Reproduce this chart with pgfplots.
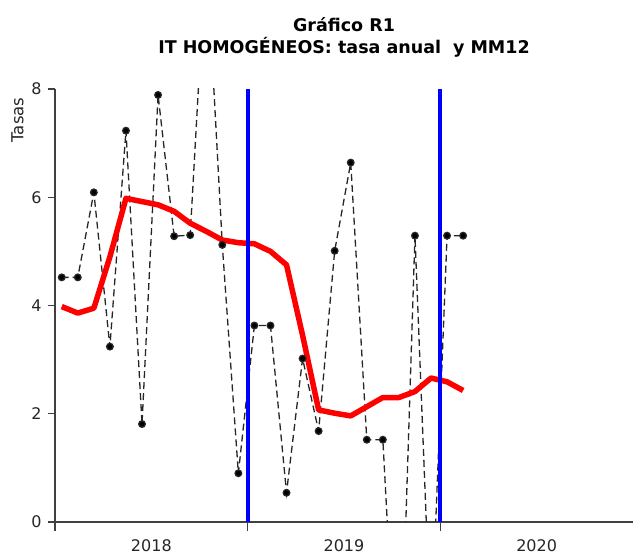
\documentclass[border=0pt]{standalone}
\usepackage{pgfplots}
\pgfplotsset{compat=1.18}
\usepackage{pgfplotstable}
\usepackage{fontspec}
\setmainfont{DejaVu Sans}

\pgfplotstableread{
x y m
0.42 4.52 3.98
1.42 4.52 3.86
2.42 6.09 3.95
3.42 3.24 4.90
4.42 7.23 5.98
5.42 1.81 5.92
6.42 7.89 5.86
7.42 5.28 5.74
8.42 5.30 5.52
9.42 10.6 5.37
10.42 5.12 5.21
11.42 0.90 5.16
12.42 3.63 5.14
13.42 3.63 5.00
14.42 0.54 4.75
15.42 3.02 3.45
16.42 1.68 2.07
17.42 5.01 2.01
18.42 6.64 1.96
19.42 1.52 2.13
20.42 1.52 2.30
21.42 -4.0 2.30
22.42 5.29 2.41
23.42 -2.2 2.66
24.42 5.29 2.59
25.42 5.29 2.43
}\data

\begin{document}
\begin{tikzpicture}
\useasboundingbox (0,0) rectangle (633pt,554pt);
\begin{axis}[
  scale only axis,
  width=578pt, height=433pt,
  at={(55pt,32pt)}, anchor=origin,
  xmin=0, xmax=36, ymin=0, ymax=8,
  axis x line*=bottom, axis y line*=left,
  axis line style={draw=black!75, line width=1.3pt, -},
  xtick={6,18,30}, xticklabels={2018,2019,2020},
  x tick style={draw=none},
  extra x ticks={0,12,24}, extra x tick labels={},
  extra x tick style={x tick style={draw=black!75, line width=1.2pt}, major tick length=9pt, tick align=outside},
  ytick={0,2,4,6,8},
  y tick style={draw=black!75, line width=1.2pt},
  major tick length=7pt, tick align=outside,
  tick label style={font=\fontsize{16}{18}\selectfont, text=black!85},
  /pgf/number format/assume math mode=true,
  yticklabel style={xshift=-3pt},
  xticklabel style={yshift=-7pt},
  clip=true,
]
\addplot[black!85, line width=1.3pt, dash pattern=on 7pt off 4pt, mark=*, mark size=3.3pt, mark options={solid, fill=black}] table[x=x,y=y] {\data};
\addplot[red, line width=5.5pt, line join=round, no marks] table[x=x,y=m] {\data};
\addplot[blue, line width=3.8pt, no marks] coordinates {(12,0) (12,8)};
\addplot[blue, line width=3.8pt, no marks] coordinates {(24,0) (24,8)};
\end{axis}
\node[rotate=90, font=\fontsize{16.5}{18}\selectfont, text=black!85] at (17.5pt,434pt) {Tasas};
\node[font=\fontsize{17.5}{20}\selectfont\bfseries] at (344pt,529pt) {Gráfico R1};
\node[font=\fontsize{17.5}{20}\selectfont\bfseries] at (344pt,507pt) {IT HOMOGÉNEOS: tasa anual\,\, y MM12};
\end{tikzpicture}
\end{document}
